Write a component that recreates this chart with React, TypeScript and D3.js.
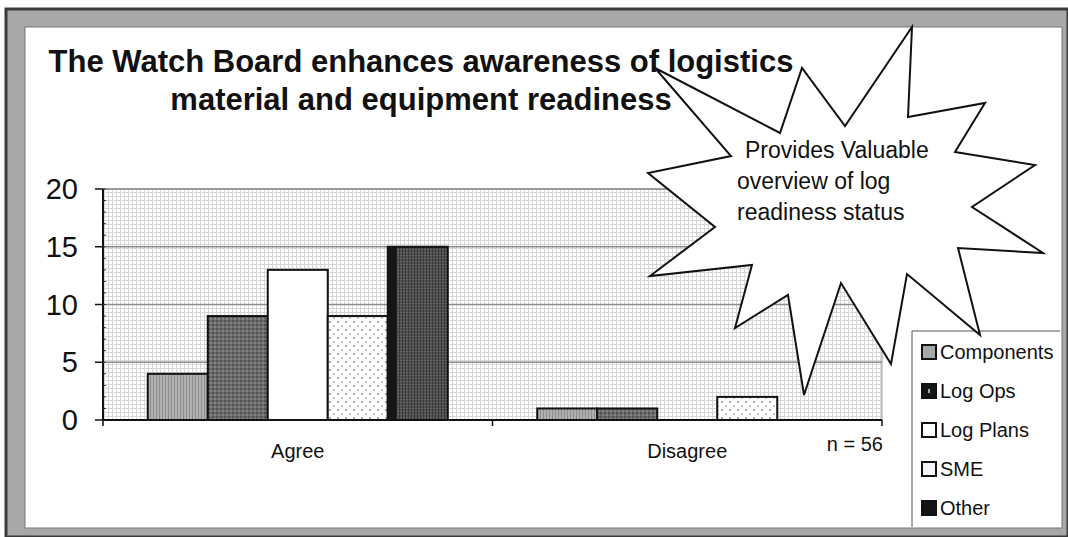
import React, { useEffect, useRef } from "react";
import * as d3 from "d3";

const titleLines = [
  "The Watch Board enhances awareness of logistics",
  "material and equipment readiness",
];
const categories = ["Agree", "Disagree"];
const seriesNames = ["Components", "Log Ops", "Log Plans", "SME", "Other"];
const components = [4, 1];
const logOps = [9, 1];
const logPlans = [13, 0];
const sme = [9, 2];
const other = [15, 0];
const yTicks = [0, 5, 10, 15, 20];
const calloutLines = ["Provides Valuable", "overview of log", "readiness status"];
const sampleNote = "n = 56";

// callout star outline (x, y in page pixels)
const starPoints: [number, number][] = [
  [912, 27], [908, 117], [985, 103], [955, 152], [1035, 165], [972, 207],
  [1043, 253], [958, 248], [980, 335], [907, 274], [891, 364], [841, 283],
  [804, 395], [788, 295], [735, 328], [752, 265], [650, 276], [715, 227],
  [648, 173], [731, 156], [655, 68], [780, 133], [802, 68], [845, 126],
];

const W = 1068;
const H = 537;

export default function App() {
  const ref = useRef<SVGSVGElement>(null);

  useEffect(() => {
    const svg = d3.select(ref.current);
    svg.selectAll("*").remove();

    const series = [components, logOps, logPlans, sme, other];
    const fills = ["url(#compPat)", "url(#opsPat)", "#ffffff", "url(#smePat)", "url(#otherPat)"];

    const plot = { left: 103, right: 882, top: 189, bottom: 420 };

    const defs = svg.append("defs");
    const pat = (id: string, size: number, bg: string) => {
      const p = defs
        .append("pattern")
        .attr("id", id)
        .attr("patternUnits", "userSpaceOnUse")
        .attr("width", size)
        .attr("height", size);
      p.append("rect").attr("width", size).attr("height", size).attr("fill", bg);
      return p;
    };
    const grid = pat("plotPat", 4, "#ffffff");
    grid.append("line").attr("x1", 0).attr("x2", 4).attr("y1", 0.5).attr("y2", 0.5).attr("stroke", "#d6d6d6");
    grid.append("line").attr("x1", 0.5).attr("x2", 0.5).attr("y1", 0).attr("y2", 4).attr("stroke", "#d6d6d6");

    const comp = pat("compPat", 3, "#b0b0b0");
    comp.append("line").attr("x1", 0.5).attr("x2", 0.5).attr("y1", 0).attr("y2", 3).attr("stroke", "#8e8e8e");

    const ops = pat("opsPat", 4, "#6a6a6a");
    ops.append("rect").attr("x", 0).attr("y", 0).attr("width", 2).attr("height", 2).attr("fill", "#545454");
    ops.append("rect").attr("x", 2).attr("y", 2).attr("width", 2).attr("height", 2).attr("fill", "#828282");

    const smeP = pat("smePat", 8, "#ffffff");
    smeP.append("circle").attr("cx", 2).attr("cy", 2).attr("r", 0.9).attr("fill", "#888");
    smeP.append("circle").attr("cx", 6).attr("cy", 6).attr("r", 0.9).attr("fill", "#aaa");

    const oth = pat("otherPat", 3, "#4e4e4e");
    oth.append("line").attr("x1", 0).attr("x2", 3).attr("y1", 0.5).attr("y2", 0.5).attr("stroke", "#666");
    oth.append("line").attr("x1", 0.5).attr("x2", 0.5).attr("y1", 0).attr("y2", 3).attr("stroke", "#3a3a3a");

    // frame
    svg
      .append("rect")
      .attr("x", 6)
      .attr("y", 9)
      .attr("width", 1062)
      .attr("height", 528)
      .attr("fill", "#a8a8a8")
      .attr("stroke", "#3a3a3a")
      .attr("stroke-width", 3);
    svg
      .append("rect")
      .attr("x", 25)
      .attr("y", 27)
      .attr("width", 1037)
      .attr("height", 501)
      .attr("fill", "#ffffff")
      .attr("stroke", "#777")
      .attr("stroke-width", 1);

    // title
    svg
      .selectAll(".title")
      .data(titleLines)
      .enter()
      .append("text")
      .attr("class", "title")
      .attr("x", 421)
      .attr("y", (d, i) => 72 + i * 38)
      .attr("text-anchor", "middle")
      .attr("font-family", "Liberation Sans, Arial, sans-serif")
      .attr("font-weight", "bold")
      .attr("font-size", 31)
      .attr("fill", "#111")
      .text((d) => d);

    const x0 = d3.scaleBand().domain(categories).range([plot.left, plot.right]).padding(0);
    const x1 = d3.scaleBand().domain(seriesNames).range([0, x0.bandwidth()]).paddingInner(0).paddingOuter(0.746);
    const y = d3.scaleLinear().domain([0, 20]).range([plot.bottom, plot.top]);

    // plot background
    svg
      .append("rect")
      .attr("x", plot.left)
      .attr("y", plot.top)
      .attr("width", plot.right - plot.left)
      .attr("height", plot.bottom - plot.top)
      .attr("fill", "url(#plotPat)")
      .attr("stroke", "#999")
      .attr("stroke-width", 1);

    // gridlines
    svg
      .selectAll(".grid")
      .data(yTicks.filter((t) => t > 0))
      .enter()
      .append("line")
      .attr("x1", plot.left)
      .attr("x2", plot.right)
      .attr("y1", (d) => y(d))
      .attr("y2", (d) => y(d))
      .attr("stroke", "#8a8a8a")
      .attr("stroke-width", 1.5);

    // bars
    series.forEach((vals, si) => {
      const name = seriesNames[si];
      const rows = vals.map((v, ci) => ({ cat: categories[ci], v })).filter((d) => d.v > 0);
      svg
        .selectAll(".bar" + si)
        .data(rows)
        .enter()
        .append("rect")
        .attr("x", (d) => x0(d.cat)! + x1(name)!)
        .attr("y", (d) => y(d.v))
        .attr("width", x1.bandwidth())
        .attr("height", (d) => y(0) - y(d.v))
        .attr("fill", fills[si])
        .attr("stroke", "#111")
        .attr("stroke-width", 2);
      if (name === "Other") {
        svg
          .selectAll(".otherEdge")
          .data(rows)
          .enter()
          .append("rect")
          .attr("x", (d) => x0(d.cat)! + x1(name)!)
          .attr("y", (d) => y(d.v))
          .attr("width", 9)
          .attr("height", (d) => y(0) - y(d.v))
          .attr("fill", "#151515");
      }
    });

    // y axis
    svg
      .append("line")
      .attr("x1", plot.left)
      .attr("x2", plot.left)
      .attr("y1", plot.top)
      .attr("y2", plot.bottom)
      .attr("stroke", "#111")
      .attr("stroke-width", 2);
    svg
      .selectAll(".minor")
      .data(d3.range(0, 20.5, 1))
      .enter()
      .append("line")
      .attr("x1", plot.left)
      .attr("x2", plot.left + 3)
      .attr("y1", (d) => y(d))
      .attr("y2", (d) => y(d))
      .attr("stroke", "#333");
    svg
      .selectAll(".ytick")
      .data(yTicks)
      .enter()
      .append("line")
      .attr("x1", plot.left - 8)
      .attr("x2", plot.left)
      .attr("y1", (d) => y(d))
      .attr("y2", (d) => y(d))
      .attr("stroke", "#111")
      .attr("stroke-width", 1.5);
    svg
      .selectAll(".ylab")
      .data(yTicks)
      .enter()
      .append("text")
      .attr("x", 78)
      .attr("y", (d) => y(d) + 10)
      .attr("text-anchor", "end")
      .attr("font-family", "Liberation Sans, Arial, sans-serif")
      .attr("font-size", 29)
      .attr("fill", "#111")
      .text((d) => d);

    // x axis
    svg
      .append("line")
      .attr("x1", plot.left)
      .attr("x2", plot.right)
      .attr("y1", plot.bottom)
      .attr("y2", plot.bottom)
      .attr("stroke", "#111")
      .attr("stroke-width", 2);
    const edges = [plot.left, ...categories.map((c) => x0(c)! + x0.bandwidth())];
    svg
      .selectAll(".xtick")
      .data(edges)
      .enter()
      .append("line")
      .attr("x1", (d) => d)
      .attr("x2", (d) => d)
      .attr("y1", plot.bottom)
      .attr("y2", plot.bottom + 6)
      .attr("stroke", "#111")
      .attr("stroke-width", 1.5);
    svg
      .selectAll(".xlab")
      .data(categories)
      .enter()
      .append("text")
      .attr("x", (d) => x0(d)! + x0.bandwidth() / 2)
      .attr("y", 458)
      .attr("text-anchor", "middle")
      .attr("font-family", "Liberation Sans, Arial, sans-serif")
      .attr("font-size", 20)
      .attr("fill", "#111")
      .text((d) => d);
    svg
      .append("text")
      .attr("x", 883)
      .attr("y", 451)
      .attr("text-anchor", "end")
      .attr("font-family", "Liberation Sans, Arial, sans-serif")
      .attr("font-size", 20)
      .attr("fill", "#111")
      .text(sampleNote);

    // legend
    const legend = svg.append("g");
    legend
      .append("path")
      .attr("d", "M912,527 L912,331 L1060,331")
      .attr("fill", "none")
      .attr("stroke", "#555")
      .attr("stroke-width", 1);
    const swFill = ["#a8a8a8", "#141414", "#ffffff", "#f4f4f4", "#141414"];
    const items = legend
      .selectAll(".li")
      .data(seriesNames)
      .enter()
      .append("g")
      .attr("transform", (d, i) => `translate(922, ${352 + i * 39})`);
    items
      .append("rect")
      .attr("x", 0)
      .attr("y", -7)
      .attr("width", 14)
      .attr("height", 14)
      .attr("fill", (d, i) => swFill[i])
      .attr("stroke", "#111")
      .attr("stroke-width", 2);
    items
      .filter((d) => d === "Log Ops")
      .append("rect")
      .attr("x", 6)
      .attr("y", -2)
      .attr("width", 2)
      .attr("height", 4)
      .attr("fill", "#aaa");
    items
      .append("text")
      .attr("x", 18)
      .attr("y", 7)
      .attr("font-family", "Liberation Sans, Arial, sans-serif")
      .attr("font-size", 20)
      .attr("fill", "#111")
      .text((d) => d);

    // callout star
    svg
      .append("polygon")
      .attr("points", starPoints.map((p) => p.join(",")).join(" "))
      .attr("fill", "#ffffff")
      .attr("stroke", "#111")
      .attr("stroke-width", 2)
      .attr("stroke-linejoin", "miter");
    svg
      .selectAll(".callout")
      .data(calloutLines)
      .enter()
      .append("text")
      .attr("x", (d, i) => (i === 0 ? 745 : 737))
      .attr("y", (d, i) => 158 + i * 31)
      .attr("font-family", "Liberation Sans, Arial, sans-serif")
      .attr("font-size", 23)
      .attr("fill", "#111")
      .text((d) => d);
  }, []);

  return (
    <svg
      ref={ref}
      width={W}
      height={H}
      style={{ position: "absolute", left: 0, top: 0, display: "block", background: "#fff" }}
    />
  );
}
